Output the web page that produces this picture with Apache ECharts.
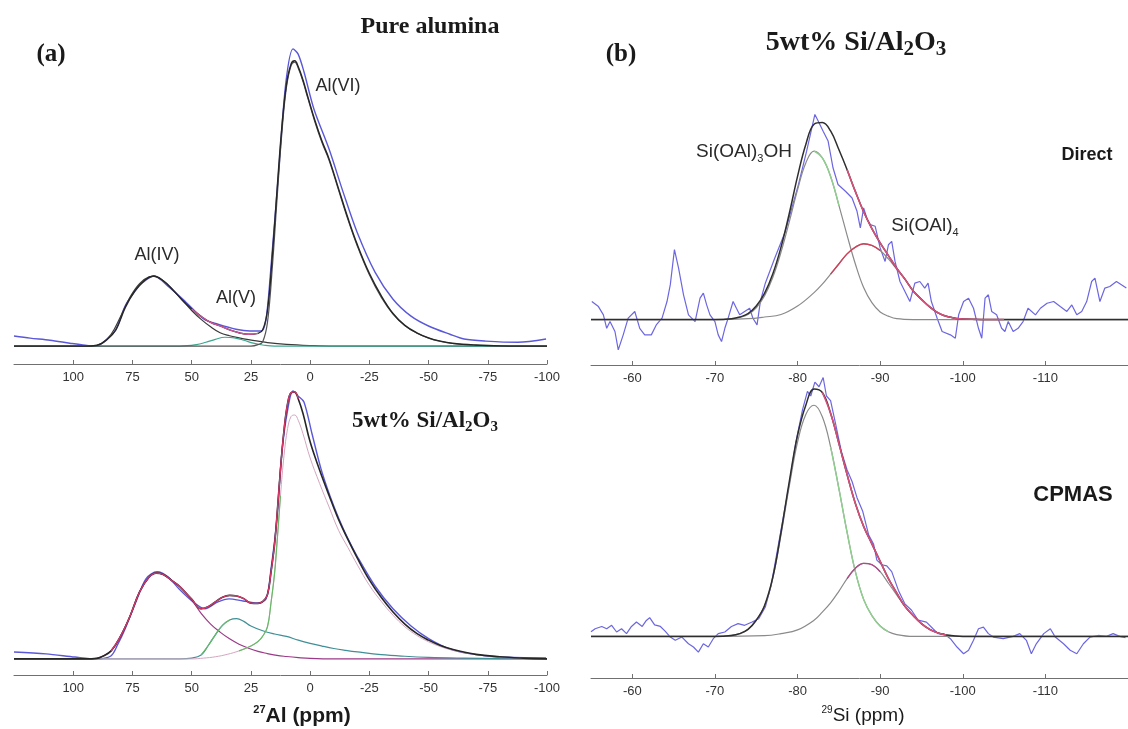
<!DOCTYPE html>
<html>
<head>
<meta charset="utf-8">
<script src="https://cdn.jsdelivr.net/npm/echarts@6/dist/echarts.min.js"></script>
<style>
  html, body { margin: 0; padding: 0; background: #ffffff; }
  #chart { width: 1128px; height: 729px; }
</style>
</head>
<body>
<div id="chart"></div>
<script>
// ---------- 27Al MAS NMR, pure alumina (ppm, normalised intensity) ----------
const aluExpPpm = [125, 118.2, 109.8, 101.4, 95, 90.4, 85.7, 81.9, 78.1, 73.9, 70.5, 65.9, 60, 52.4, 44.8, 38.9, 31.3, 25.4, 20.7, 18.6, 16.5, 13.1, 10.2, 7.2, 5.1, 2.6, -1.6, -8, -13.9, -19.8, -27.4, -35, -42.6, -50.2, -59, -65, -74.2, -87.7, -99.6];
const aluExp    = [3.4, 2.7, 2.0, 1.0, 0.3, 0, 2.4, 5.7, 13.5, 18.5, 21.5, 23.6, 20.2, 14.8, 9.1, 7.4, 5.7, 5.1, 5.1, 9.1, 26.9, 60.6, 88.9, 100, 98.3, 92.3, 79.8, 66.3, 51.9, 38.4, 24.9, 15.8, 10.1, 6.7, 4.0, 2.4, 1.7, 1.3, 2.4];

const aluFitPpm = [125, 95, 90, 86, 82, 78, 74, 70, 66, 62, 58, 54, 50, 46, 42, 38, 34, 30, 26, 22, 20, 18, 16, 14, 12, 10, 8, 6.5, 5, 3, 1, -2, -5, -8, -12, -16, -20, -25, -30, -35, -40, -45, -50, -55, -60, -70, -80, -100];
const aluFit    = [0, 0, 0.3, 2, 5.5, 13, 18.5, 22, 23.6, 22, 19, 15.5, 12.5, 10, 8, 6.8, 5.5, 4.5, 4, 4.3, 5.5, 12, 30, 52, 73, 88, 95, 96, 94, 89.5, 84, 76, 69, 63, 53, 43, 34, 24.5, 17, 11, 7, 4.5, 2.8, 1.7, 1, 0.4, 0.1, 0];

const aluIVPpm = [125, 92, 88, 84, 80, 76, 72, 68, 66, 62, 58, 54, 50, 46, 42, 38, 34, 30, 26, 22, 18, 10, 0, -10, -100];
const aluIV    = [0, 0, 1, 4, 10, 16.5, 21, 23.3, 23.5, 22, 19, 15.5, 12, 9, 6.5, 4.5, 3.5, 2.8, 2.2, 1.7, 1.2, 0.6, 0.2, 0, 0];

const aluVPpm = [125, 55, 48, 44, 40, 36, 32, 28, 24, 20, 15, -100];
const aluV    = [0, 0, 0.5, 1.3, 2.3, 3, 2.8, 2, 1, 0.4, 0, 0];

const aluVIPpm = [125, 25, 22, 20, 18, 16, 14, 12, 10, 8, 6.5, 5, 3, 1, -2, -5, -8, -12, -16, -20, -25, -30, -35, -40, -45, -50, -55, -60, -70, -80, -100];
const aluVI    = [0, 0, 0.5, 1.5, 8, 26, 49, 71, 87, 94.5, 95.5, 93.5, 89, 83.5, 75.5, 68.5, 62.5, 52.5, 42.5, 33.5, 24, 16.5, 10.8, 6.9, 4.4, 2.7, 1.6, 0.9, 0.3, 0.1, 0];

// ---------- 27Al MAS NMR, 5wt% Si/Al2O3 ----------
const siAlExpPpm = [125, 111.5, 99.3, 90.4, 84.1, 81.1, 78.1, 73.5, 69.3, 64.6, 60, 55.3, 49.4, 44.4, 38.9, 34.2, 28.3, 22.4, 18.6, 16.5, 14, 11.9, 9.4, 7.2, 5.1, 2.6, -0.8, -4.6, -8.4, -12.2, -16, -19.8, -27.4, -35, -42.6, -50.2, -59, -67.9, -80.2, -99.6];
const siAlExp    = [2.6, 1.9, 0.7, 0, 1.1, 5.6, 11.2, 21.3, 29.9, 32.5, 30.6, 26.1, 21.3, 18.7, 21.3, 22.4, 21.6, 20.9, 22.4, 33.6, 52.2, 77.2, 93.3, 100, 98.1, 95.9, 84, 70.9, 60.8, 52.2, 44.8, 38.4, 27.2, 18.7, 12.3, 7.5, 3.7, 1.9, 0.7, 0.4];

const siAlFitPpm = [125, 95, 90, 88, 84, 80, 76, 72, 68, 65, 62, 58, 55, 50, 46, 43, 40, 37, 34, 31, 28, 25, 22, 20, 18, 16.5, 15, 14, 12.5, 11, 9.5, 8, 6.5, 5, 3, 0, -4, -8, -12, -16, -20, -25, -30, -35, -40, -45, -50, -55, -60, -70, -80, -90, -100];
const siAlFit    = [0, 0, 0.2, 0.8, 3, 8.5, 16, 25, 30.5, 32, 31.5, 29, 27, 22.3, 18.7, 19.5, 21.3, 23, 23.7, 23.5, 22.5, 20.8, 20.7, 21.4, 24, 32.4, 42.8, 53.3, 70.8, 85.5, 95.3, 99.4, 99.6, 97, 91.6, 81, 70.5, 61, 52, 44.5, 37.5, 29.5, 23, 17.5, 13, 9.5, 7, 5, 3.6, 1.7, 0.8, 0.3, 0];

const siAlIVPpm = [125, 92, 88, 84, 80, 76, 72, 68, 65, 62, 58, 55, 50, 46, 42, 38, 34, 30, 26, 22, 18, 14, 10, 5, 0, -10, -100];
const siAlIV    = [0, 0, 0.8, 3, 8.5, 16, 25, 30.5, 32, 31.5, 29, 27, 22, 17, 13, 10, 7.5, 5.5, 4, 2.8, 2, 1.3, 0.9, 0.5, 0.2, 0, 0];

const siAlVPpm = [125, 55, 50, 46, 43, 40, 37, 34, 31, 28, 25, 20, 15, 10, 5, 0, -5, -10, -15, -20, -30, -40, -50, -65, -80, -100];
const siAlV    = [0, 0, 0.3, 1.5, 5, 9, 12.5, 14.5, 15, 14, 12.3, 10.5, 9.3, 8.4, 7, 5.8, 4.8, 3.9, 3.2, 2.6, 1.6, 1, 0.6, 0.3, 0.1, 0];

const siAlVIPpm = [125, 50, 45, 40, 35, 30, 25, 22, 20, 18, 16.5, 15, 14, 12.5, 11, 9.5, 8, 6.5, 5, 3, 0, -4, -8, -12, -16, -20, -25, -30, -35, -40, -45, -50, -55, -60, -70, -80, -90, -100];
const siAlVI    = [0, 0, 0.3, 0.8, 1.7, 3, 4.8, 6.5, 8.5, 12, 21, 32, 43, 61, 76, 86, 90.5, 91, 89, 84, 75, 65.5, 56.7, 48, 41.5, 35, 27.5, 21.5, 16.3, 12, 8.8, 6.4, 4.6, 3.3, 1.6, 0.7, 0.3, 0];

// ---------- 29Si MAS NMR, direct excitation ----------
const dirExpPpm = [-55.1, -55.9, -56.5, -56.9, -57.3, -57.9, -58.3, -58.9, -59.5, -60.3, -60.9, -61.5, -62.3, -62.9, -63.6, -64.2, -64.6, -65.1, -65.6, -66.2, -66.8, -67.6, -68.2, -68.6, -69.0, -69.4, -70.0, -70.4, -70.8, -71.2, -71.6, -72.2, -72.6, -73.0, -73.6, -74.2, -74.6, -75.1, -75.5, -76.1, -77.2, -78.5, -79.3, -80.1, -81.1, -82.1, -82.5, -83.1, -83.7, -84.3, -84.9, -85.8, -86.6, -87.2, -87.6, -88.0, -88.4, -88.8, -89.4, -90.0, -90.6, -91.0, -91.4, -91.8, -92.4, -93.0, -93.6, -94.2, -94.8, -95.4, -95.8, -96.2, -96.9, -97.5, -98.5, -99.1, -99.5, -100.1, -100.7, -101.3, -101.9, -102.3, -102.7, -103.1, -103.5, -104.1, -104.7, -105.1, -105.5, -106.1, -106.7, -107.3, -107.9, -108.8, -109.4, -110.2, -111.0, -111.8, -112.6, -113.2, -113.8, -114.4, -115.0, -115.6, -116.0, -116.6, -117.2, -117.8, -118.6, -119.2, -119.8];
const dirExp    = [10.7, 7.7, 2.8, -5.2, -1.2, -7.1, -18, -9.1, 0.8, 4.8, -5.2, -9.1, -9.1, -3.2, 0.8, 10.7, 20.7, 41.5, 30.5, 14.7, 2.8, -1.2, 12.7, 15.7, 8.7, 2.8, -1.2, -9.1, -13.1, -5.2, 0.8, 10.7, 6.7, 2.8, 4.8, 6.7, 0.8, -3.2, 10.7, 21.6, 36, 52, 66, 80, 100, 121.8, 117.9, 111.9, 106, 90, 80.2, 76.2, 72.2, 64.3, 54.4, 66.3, 60, 56.4, 55.4, 42.5, 34.5, 44.4, 46.4, 34.5, 22.6, 16.7, 10.7, 21.6, 22.6, 18.7, 21.6, 10.7, 0.8, -7.1, -9.1, -11.1, 2.8, 10.7, 12.7, 6.7, -5.2, -11.1, 12.7, 14.7, 4.8, 2.8, -5.2, -7.1, -1.2, -7.1, -5.2, -1.2, 6.7, 2.8, 6.7, 9.7, 10.7, 7.7, 4.8, 8.7, 2.8, 4.8, 10.7, 22.6, 24.6, 10.7, 18.7, 19.6, 22.6, 20.7, 18.7];

const dirFitPpm = [-55, -70, -72, -73, -74, -75, -76, -77, -78, -79, -80, -81, -82, -83, -84, -85, -86, -87, -88, -89, -90, -91, -92, -93, -94, -95, -96, -97, -98, -100, -105, -120];
const dirFit    = [0, 0, 0.5, 1.5, 3.5, 8, 15.5, 27, 43, 63, 85, 104, 116, 117, 112, 101, 89, 76, 64, 54, 45.5, 38, 30.5, 24, 17, 12, 7.5, 4, 2, 0.3, 0, 0];

const dirQ3Ppm = [-55, -70, -72, -73, -74, -75, -76, -77, -78, -79, -80, -81, -82, -83, -84, -85, -86, -87, -88, -89, -90, -91, -92, -94, -120];
const dirQ3    = [0, 0, 0.4, 1.2, 3, 7, 14, 25, 40, 58, 77, 93, 100, 96, 85, 68, 50, 33, 19, 10, 4.5, 2, 0.5, 0, 0];

const dirQ4Ppm = [-55, -70, -74, -76, -78, -80, -82, -83, -84, -85, -86, -87, -88, -89, -90, -91, -92, -93, -94, -95, -96, -97, -98, -100, -105, -120];
const dirQ4    = [0, 0, 0.5, 1.5, 3, 8, 16, 21, 27, 33, 39, 43, 45, 44, 41, 36, 30, 24, 17, 12, 7.5, 4, 2, 0.3, 0, 0];

// ---------- 29Si CPMAS ----------
const cpExpPpm = [-55.0, -55.5, -56.3, -56.9, -57.5, -58.1, -58.7, -59.3, -59.9, -60.5, -61.2, -61.7, -62.1, -62.7, -63.4, -64.0, -64.6, -65.2, -66.0, -66.8, -67.4, -68.0, -68.6, -69.2, -69.8, -70.4, -71.2, -72.0, -72.8, -73.6, -74.5, -75.3, -76.1, -76.8, -77.5, -78.2, -79.0, -79.8, -80.6, -81.2, -81.6, -82.1, -82.6, -83.1, -83.5, -84.0, -84.6, -85.3, -86.0, -86.6, -87.2, -87.9, -88.6, -89.2, -89.6, -90.2, -90.8, -91.4, -92.2, -93.0, -93.8, -94.6, -95.6, -96.4, -97.0, -97.7, -98.5, -99.3, -100.1, -100.7, -101.3, -101.9, -102.5, -103.1, -103.7, -104.9, -106.1, -106.9, -107.7, -108.3, -108.9, -109.8, -110.6, -111.2, -112.2, -113.0, -113.8, -114.6, -115.4, -116.4, -117.4, -118.2, -119.0, -119.7];
const cpExp    = [2, 3.3, 4.3, 3.3, 4.8, 1.9, 3.3, 1.2, 4.3, 6.2, 4.3, 6.9, 8.1, 5, 4.3, 2.2, -0.3, -1.7, -0.3, -3.2, -4.6, -6.8, -3.2, -4.6, -1, 1.2, 1.9, 4.3, 5.5, 4.8, 6.2, 7.6, 12.7, 22, 36, 50, 66, 84, 98, 106, 104, 110, 108, 112, 104, 102, 92, 80, 72, 67, 60, 54, 44, 40, 33, 31, 30.5, 28, 20, 14, 11.3, 7, 6.2, 3.3, 1.2, 1.2, -1, -4.6, -7.5, -6, -1.7, 3.3, 4, 1.2, -0.3, -1, 0, 1.2, -1.7, -7.5, -3.2, 1.2, 3.3, -0.3, -3.2, -6, -7.5, -3.2, -0.3, 0.4, 0, 1.2, 0, -0.6];

const cpFitPpm = [-55, -70, -72, -73, -74, -75, -76, -77, -78, -79, -80, -81, -82, -83, -84, -85, -86, -87, -88, -89, -90, -91, -92, -93, -94, -95, -96, -97, -98, -100, -120];
const cpFit    = [0, 0, 0.4, 1.2, 3, 7, 13.3, 25.5, 45, 67, 87, 100, 107, 105.5, 96.5, 83.5, 70, 57.5, 47.6, 40, 32.5, 25, 18.8, 13, 9, 5.5, 3, 1.5, 0.6, 0, 0];

const cpQ3Ppm = [-55, -70, -72, -73, -74, -75, -76, -77, -78, -79, -80, -81, -82, -83, -84, -85, -86, -87, -88, -89, -90, -91, -92, -94, -120];
const cpQ3    = [0, 0, 0.4, 1.2, 3, 7, 13, 25, 44, 65, 84, 96, 100, 95, 82, 64, 45, 28, 16, 9, 4.5, 2, 0.8, 0, 0];

const cpQ4Ppm = [-55, -70, -76, -78, -80, -82, -83, -84, -85, -86, -87, -88, -89, -90, -91, -92, -93, -94, -95, -96, -97, -98, -100, -120];
const cpQ4    = [0, 0, 0.3, 1.2, 2.8, 7, 10.5, 14.5, 19.5, 25, 29.5, 31.6, 31, 28, 23, 18, 13, 9, 5.5, 3, 1.5, 0.6, 0, 0];

// ---------- axis ticks ----------
const alTickStep = 25;   // 100, 75 ... -100
const siTickStep = 10;   // -60 ... -110

// ---------- helpers ----------
function pairs(xs, ys) { return xs.map((x, i) => [x, ys[i]]); }
function part(xs, ys, hi, lo) { return pairs(xs, ys).filter(p => p[0] <= hi && p[0] >= lo); }

const SANS = '"Liberation Sans", Arial, sans-serif';
const SERIF = '"Liberation Serif", "Times New Roman", serif';

function xAxis(gridIndex, min, max, interval, showMinLabel) {
  return {
    type: 'value', gridIndex, min, max, interval, inverse: true, position: 'bottom',
    axisLine: { show: true, onZero: false, lineStyle: { color: '#707070', width: 1 } },
    axisTick: { show: true, inside: true, length: 4, lineStyle: { color: '#707070', width: 1 } },
    axisLabel: { show: true, margin: 7, color: '#333', fontSize: 13, fontFamily: SANS,
                 showMaxLabel: false, showMinLabel: showMinLabel },
    splitLine: { show: false }
  };
}
function yAxis(gridIndex, min, max) {
  return { type: 'value', gridIndex, min, max, show: false, splitLine: { show: false } };
}
function line(idx, data, color, width, smooth, z) {
  return {
    type: 'line', xAxisIndex: idx, yAxisIndex: idx, data, symbol: 'none', showSymbol: false,
    smooth: smooth, silent: true, z: z,
    lineStyle: { color, width }
  };
}

const blue = '#5a58d8';
const series = [
  // (a) pure alumina
  line(0, pairs(aluExpPpm, aluExp), blue, 1.4, 0.3, 2),
  line(0, pairs(aluIVPpm, aluIV), '#3a3a3a', 1.2, 0.4, 3),
  line(0, pairs(aluVPpm, aluV), '#3fa690', 1.2, 0.4, 3),
  line(0, pairs(aluVIPpm, aluVI), '#555555', 1.2, 0.4, 3),
  line(0, pairs(aluFitPpm, aluFit), '#262626', 1.4, 0.4, 4),
  line(0, part(aluFitPpm, aluFit, 50, 22), '#d0559a', 1.3, 0.4, 5),

  // (a) 5wt% Si/Al2O3
  line(1, pairs(siAlExpPpm, siAlExp), blue, 1.4, 0.3, 2),
  line(1, pairs(siAlIVPpm, siAlIV), '#9a3a88', 1.2, 0.4, 3),
  line(1, pairs(siAlVPpm, siAlV), '#3f8f96', 1.2, 0.4, 3),
  line(1, pairs(siAlVIPpm, siAlVI), '#d4a6c0', 1.0, 0.4, 3),
  line(1, part(siAlVIPpm, siAlVI, 30, 12), '#66bb66', 1.2, 0.4, 4),
  line(1, part(siAlVPpm, siAlV, 48, 34), '#66bb66', 1.2, 0.4, 4),
  line(1, pairs(siAlFitPpm, siAlFit), '#262626', 1.6, 0.4, 4),
  line(1, part(siAlFitPpm, siAlFit, 84, 5), '#d8386a', 1.3, 0.4, 5),

  // (b) direct
  line(2, pairs(dirExpPpm, dirExp), '#6c66e0', 1.2, false, 2),
  line(2, pairs(dirQ3Ppm, dirQ3), '#8a8a8a', 1.2, 0.4, 3),
  line(2, pairs(dirQ4Ppm, dirQ4), '#8a8a8a', 1.2, 0.4, 3),
  line(2, part(dirQ3Ppm, dirQ3, -82, -85), '#8fd08f', 1.4, 0.4, 4),
  line(2, part(dirQ4Ppm, dirQ4, -84, -90), '#d0405a', 1.4, 0.4, 4),
  line(2, pairs(dirFitPpm, dirFit), '#2e2e2e', 1.5, 0.4, 4),
  line(2, part(dirFitPpm, dirFit, -86, -105), '#d8507a', 1.6, 0.4, 5),

  // (b) CPMAS
  line(3, pairs(cpExpPpm, cpExp), '#6c66e0', 1.2, false, 2),
  line(3, pairs(cpQ3Ppm, cpQ3), '#8a8a8a', 1.2, 0.4, 3),
  line(3, pairs(cpQ4Ppm, cpQ4), '#8a8a8a', 1.2, 0.4, 3),
  line(3, part(cpQ3Ppm, cpQ3, -84, -91), '#8fd08f', 1.4, 0.4, 4),
  line(3, part(cpQ4Ppm, cpQ4, -86, -90), '#b04a8a', 1.4, 0.4, 4),
  line(3, pairs(cpFitPpm, cpFit), '#2e2e2e', 1.5, 0.4, 4),
  line(3, part(cpFitPpm, cpFit, -83, -98), '#d8507a', 1.6, 0.4, 5)
];

function label(x, y, text, font, extra) {
  return {
    type: 'text', x, y, silent: true, z: 10,
    style: Object.assign({ text, font, fill: '#1a1a1a', align: 'center', verticalAlign: 'middle' }, extra || {})
  };
}

const graphic = [
  label(51, 55, '(a)', 'bold 25px ' + SERIF),
  label(430, 27, 'Pure alumina', 'bold 24px ' + SERIF),
  label(338, 86, 'Al(VI)', '18px ' + SANS, { fill: '#2a2a2a' }),
  label(157, 255, 'Al(IV)', '18px ' + SANS, { fill: '#2a2a2a' }),
  label(236, 298, 'Al(V)', '18px ' + SANS, { fill: '#2a2a2a' }),
  label(425, 421, '{m|5wt% Si/Al}{s|2}{m|O}{s|3}', '', {
    rich: {
      m: { fontFamily: SERIF, fontWeight: 'bold', fontSize: 23, lineHeight: 28, fill: '#1a1a1a' },
      s: { fontFamily: SERIF, fontWeight: 'bold', fontSize: 15, lineHeight: 16, verticalAlign: 'bottom', fill: '#1a1a1a' }
    }
  }),
  label(621, 55, '(b)', 'bold 25px ' + SERIF),
  label(856, 43, '{m|5wt% Si/Al}{s|2}{m|O}{s|3}', '', {
    rich: {
      m: { fontFamily: SERIF, fontWeight: 'bold', fontSize: 28, lineHeight: 34, fill: '#1a1a1a' },
      s: { fontFamily: SERIF, fontWeight: 'bold', fontSize: 21, lineHeight: 23, verticalAlign: 'bottom', fill: '#1a1a1a' }
    }
  }),
  label(744, 152, '{m|Si(OAl)}{s|3}{m|OH}', '', {
    rich: {
      m: { fontFamily: SANS, fontSize: 19, lineHeight: 24, fill: '#2a2a2a' },
      s: { fontFamily: SANS, fontSize: 11, lineHeight: 12, verticalAlign: 'bottom', fill: '#2a2a2a' }
    }
  }),
  label(925, 226, '{m|Si(OAl)}{s|4}', '', {
    rich: {
      m: { fontFamily: SANS, fontSize: 19, lineHeight: 24, fill: '#2a2a2a' },
      s: { fontFamily: SANS, fontSize: 11, lineHeight: 12, verticalAlign: 'bottom', fill: '#2a2a2a' }
    }
  }),
  label(1087, 155, 'Direct', 'bold 18px ' + SANS),
  label(1073, 495, 'CPMAS', 'bold 22px ' + SANS),
  label(302, 716, '{p|27}{m|Al (ppm)}', '', {
    rich: {
      p: { fontFamily: SANS, fontWeight: 'bold', fontSize: 11, lineHeight: 12, verticalAlign: 'top', fill: '#1a1a1a' },
      m: { fontFamily: SANS, fontWeight: 'bold', fontSize: 21, lineHeight: 24, fill: '#1a1a1a' }
    }
  }),
  label(863, 716, '{p|29}{m|Si (ppm)}', '', {
    rich: {
      p: { fontFamily: SANS, fontSize: 10, lineHeight: 11, verticalAlign: 'top', fill: '#1a1a1a' },
      m: { fontFamily: SANS, fontSize: 19, lineHeight: 22, fill: '#1a1a1a' }
    }
  })
];

const chart = echarts.init(document.getElementById('chart'), null, { renderer: 'canvas' });
chart.setOption({
  animation: false,
  backgroundColor: '#ffffff',
  grid: [
    { left: 14, width: 533, top: 34, height: 330 },
    { left: 14, width: 533, top: 377.5, height: 297.5 },
    { left: 591, width: 537, top: 67, height: 298 },
    { left: 591, width: 537, top: 359, height: 319 }
  ],
  xAxis: [
    xAxis(0, -100, 125, alTickStep, true),
    xAxis(1, -100, 125, alTickStep, true),
    xAxis(2, -120, -55, siTickStep, false),
    xAxis(3, -120, -55, siTickStep, false)
  ],
  yAxis: [
    yAxis(0, -6, 105),
    yAxis(1, -6, 105),
    yAxis(2, -27, 150),
    yAxis(3, -18, 120)
  ],
  series,
  graphic
});
</script>
</body>
</html>
